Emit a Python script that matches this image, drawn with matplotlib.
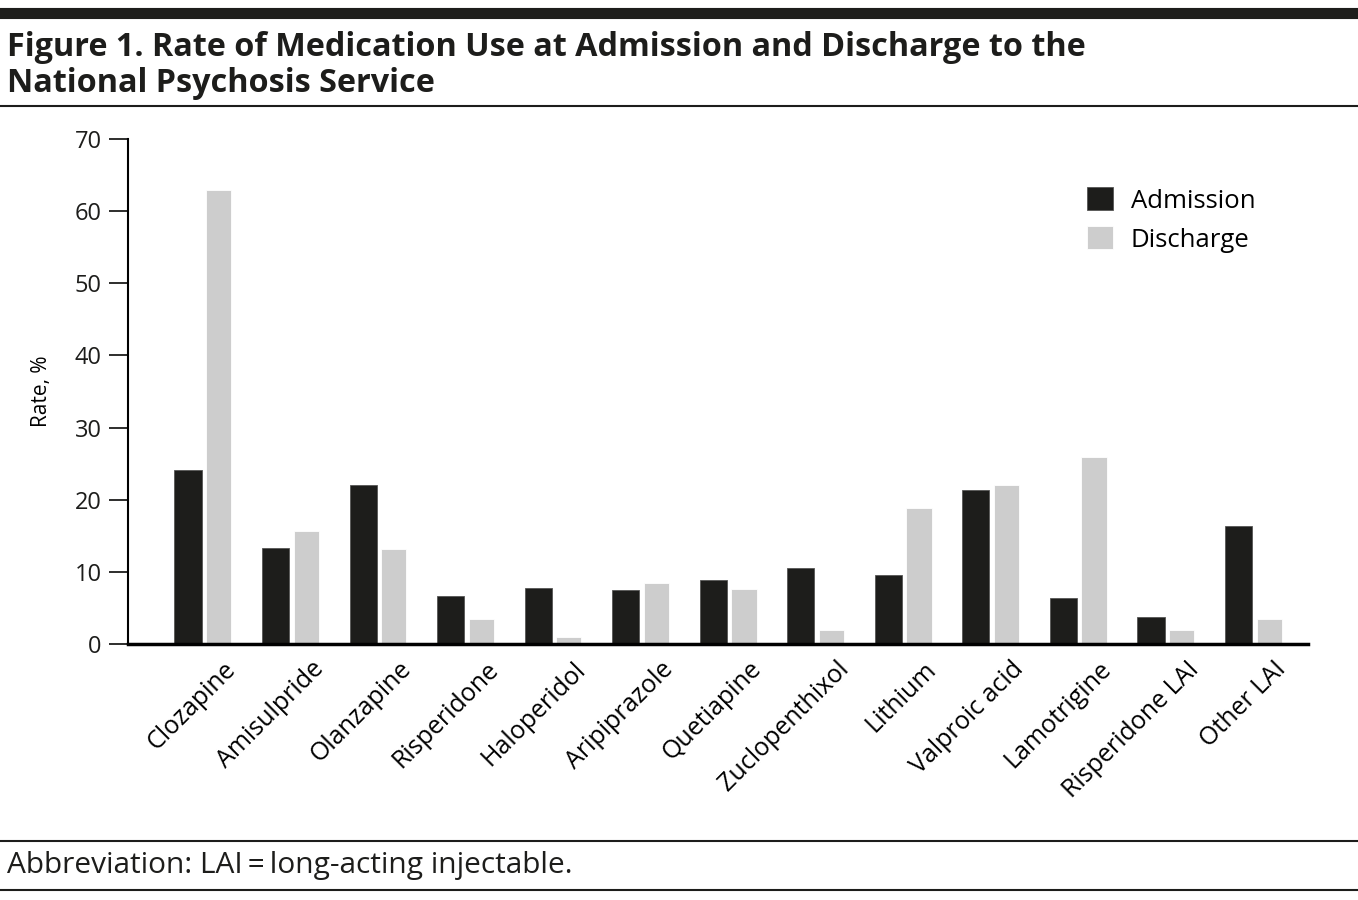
import matplotlib
matplotlib.use('Agg')
import matplotlib.pyplot as plt
import matplotlib.transforms as mtransforms
from matplotlib import font_manager
import numpy as np

drugs = ['Clozapine', 'Amisulpride', 'Olanzapine', 'Risperidone', 'Haloperidol',
         'Aripiprazole', 'Quetiapine', 'Zuclopenthixol', 'Lithium', 'Valproic acid',
         'Lamotrigine', 'Risperidone LAI', 'Other LAI']
admission = [24.1, 13.3, 22.1, 6.6, 7.8, 7.5, 8.9, 10.5, 9.5, 21.3, 6.4, 3.7, 16.3]
discharge = [62.9, 15.7, 13.2, 3.5, 1.0, 8.4, 7.6, 1.9, 18.8, 22.1, 25.9, 1.9, 3.5]
yticks = [0, 10, 20, 30, 40, 50, 60, 70]

installed = set(f.name for f in font_manager.fontManager.ttflist)
def pick(*names):
    for n in names:
        if n in installed:
            return n
    return 'DejaVu Sans'

body_font = pick('Open Sans', 'Lato', 'DejaVu Sans')
title_font = pick('Liberation Sans Narrow', 'Open Sans', 'DejaVu Sans')
plt.rcParams['font.family'] = body_font

fig = plt.figure(figsize=(13.58, 9), dpi=100)
ax = fig.add_axes([0.0943, 0.2844, 0.869, 0.5612])

x = np.arange(len(drugs))
w = 0.31
ax.bar(x - 0.175, admission, w, color='#1d1d1b', edgecolor='#555555', linewidth=0.6,
       label='Admission')
ax.bar(x + 0.175, discharge, w * 0.93, color='#cdcdcd', edgecolor='white', linewidth=0.6,
       label='Discharge')

ax.set_xlim(-0.86, 12.62)
ax.set_ylim(0, 70)
ax.set_yticks(yticks)
ax.tick_params(axis='y', length=14, width=1.3, labelsize=17, pad=5, colors='#1d1d1b')
ax.set_xticks(x)
ax.set_xticklabels(drugs, rotation=45, ha='right', rotation_mode='anchor', fontsize=18)
ax.tick_params(axis='x', length=0, pad=9)
offset = mtransforms.ScaledTranslation(0.2, 0, fig.dpi_scale_trans)
for lab in ax.get_xticklabels():
    lab.set_transform(lab.get_transform() + offset)

for s in ['top', 'right']:
    ax.spines[s].set_visible(False)
ax.spines['left'].set_linewidth(1.5)
ax.spines['bottom'].set_linewidth(2.5)
ax.set_ylabel('Rate, %', fontsize=15, labelpad=16)

ax.legend(loc='upper right', bbox_to_anchor=(0.975, 0.95), frameon=False, fontsize=18.5,
          handlelength=1.0, handleheight=1.0, handletextpad=0.7, labelspacing=0.5)

# header and footer rules
fig.add_artist(plt.Line2D([0, 1], [0.9856, 0.9856], color='#1d1d1b', lw=8))
fig.add_artist(plt.Line2D([0, 1], [0.882, 0.882], color='#1d1d1b', lw=1.5))
fig.add_artist(plt.Line2D([0, 1], [0.066, 0.066], color='#1d1d1b', lw=1.5))
fig.add_artist(plt.Line2D([0, 1], [0.011, 0.011], color='#1d1d1b', lw=1.5))

fig.text(0.005, 0.966, 'Figure 1. Rate of Medication Use at Admission and Discharge to the\n'
         'National Psychosis Service', fontsize=23.3, fontweight='bold', family=title_font,
         va='top', ha='left', color='#1d1d1b', linespacing=1.12)
fig.text(0.005, 0.038, 'Abbreviation: LAI\u2009=\u2009long-acting injectable.', fontsize=21.5,
         va='center', ha='left', color='#1d1d1b', family=[body_font, 'DejaVu Sans'])

fig.savefig('out.png', dpi=100)
